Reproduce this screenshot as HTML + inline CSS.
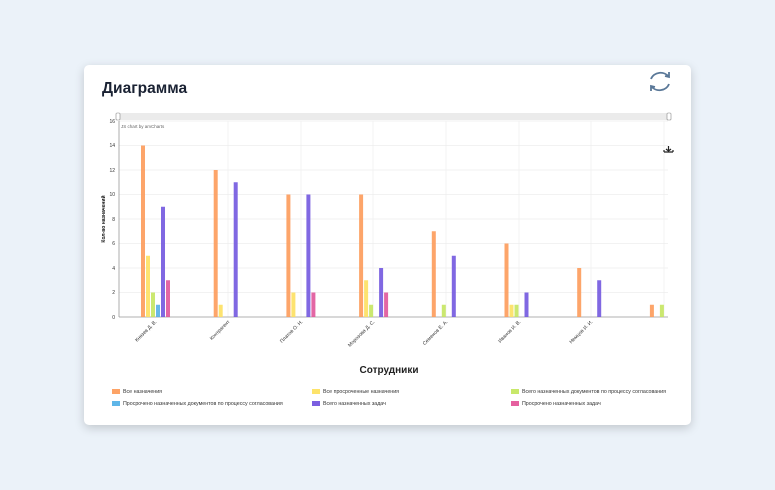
<!DOCTYPE html>
<html><head><meta charset="utf-8"><style>
body{margin:0;width:775px;height:490px;background:#ebf2f9;font-family:"Liberation Sans",sans-serif;overflow:hidden}
.card{position:absolute;left:84px;top:65px;width:607px;height:360px;background:#fff;border-radius:5px;box-shadow:0 3px 10px rgba(0,0,0,.18)}
</style></head><body>
<div class="card"></div>
<svg width="775" height="490" style="position:absolute;left:0;top:0" font-family="Liberation Sans, sans-serif">
<text x="102" y="93" font-size="15.5" font-weight="bold" fill="#1a2233">Диаграмма</text>
<g fill="none" stroke="#5a7898" stroke-width="1.8">
<path d="M651 79 a10 9 0 0 1 18 -2"/><path d="M669 84 a10 9 0 0 1 -18 2"/>
<path d="M665 76 l4 1 l0 -5"/><path d="M655 87 l-4 -1 l0 5"/>
</g>
<rect x="117" y="113" width="553" height="7" fill="#ebebeb"/>
<rect x="116" y="113" width="4" height="7" rx="1" fill="#fff" stroke="#888" stroke-width=".6"/>
<rect x="667" y="113" width="4" height="7" rx="1" fill="#fff" stroke="#888" stroke-width=".6"/>
<text x="121" y="128" font-size="4.5" fill="#666">JS chart by amCharts</text>
<g stroke="#eee" stroke-width=".7">
<line x1="119" y1="121" x2="668" y2="121"/><line x1="119" y1="145.5" x2="668" y2="145.5"/><line x1="119" y1="170" x2="668" y2="170"/><line x1="119" y1="194.5" x2="668" y2="194.5"/><line x1="119" y1="219" x2="668" y2="219"/><line x1="119" y1="243.5" x2="668" y2="243.5"/><line x1="119" y1="268" x2="668" y2="268"/><line x1="119" y1="292.5" x2="668" y2="292.5"/>
<line x1="228" y1="121" x2="228" y2="317"/><line x1="301" y1="121" x2="301" y2="317"/><line x1="373" y1="121" x2="373" y2="317"/><line x1="446" y1="121" x2="446" y2="317"/><line x1="519" y1="121" x2="519" y2="317"/><line x1="591" y1="121" x2="591" y2="317"/><line x1="664" y1="121" x2="664" y2="317"/>
</g>
<line x1="119" y1="121" x2="119" y2="317" stroke="#999" stroke-width=".8"/>
<line x1="119" y1="317" x2="668" y2="317" stroke="#999" stroke-width=".8"/>
<g font-size="5" fill="#333" text-anchor="end">
<text x="115" y="123">16</text><text x="115" y="147">14</text><text x="115" y="172">12</text><text x="115" y="196">10</text><text x="115" y="221">8</text><text x="115" y="245">6</text><text x="115" y="270">4</text><text x="115" y="294">2</text><text x="115" y="319">0</text>
</g>
<text transform="translate(105,219) rotate(-90)" font-size="5" font-weight="bold" text-anchor="middle" fill="#111">Кол-во назначений</text>
<g id="bars"></g>
<g font-size="5" fill="#333" text-anchor="end">
<text transform="translate(157,322) rotate(-45)">Князев Д. В.</text>
<text transform="translate(230,322) rotate(-45)">Контрагент</text>
<text transform="translate(303,322) rotate(-45)">Платов О. Н.</text>
<text transform="translate(375,322) rotate(-45)">Морозова Д. С.</text>
<text transform="translate(448,322) rotate(-45)">Семенов Е. А.</text>
<text transform="translate(521,322) rotate(-45)">Иванов И. В.</text>
<text transform="translate(593,322) rotate(-45)">Немцов И. И.</text>
</g>
<text x="389" y="373" font-size="10" font-weight="bold" text-anchor="middle" fill="#222">Сотрудники</text>
<g font-size="5.3" fill="#333">
<rect x="112" y="389" width="8" height="5" fill="#fda366"/><text x="123" y="393">Все назначения</text>
<rect x="312" y="389" width="8" height="5" fill="#fde36a"/><text x="323" y="393">Все просроченные назначения</text>
<rect x="511" y="389" width="8" height="5" fill="#c8e86a"/><text x="522" y="393">Всего назначенных документов по процессу согласования</text>
<rect x="112" y="401" width="8" height="5" fill="#5fb6e8"/><text x="123" y="405">Просрочено назначенных документов по процессу согласования</text>
<rect x="312" y="401" width="8" height="5" fill="#7b5fe0"/><text x="323" y="405">Всего назначенных задач</text>
<rect x="511" y="401" width="8" height="5" fill="#e5609f"/><text x="522" y="405">Просрочено назначенных задач</text>
</g>
<path d="M664 152 h9 M666 149 l2.5 2 l2.5 -2 M668.5 146 v5 M664 150 v2 M673 150 v2" stroke="#222" stroke-width="1.2" fill="none"/>
</svg>
<script>
var d=[[14,5,2,1,9,3],[12,1,0,0,11,0],[10,2,0,0,10,2],[10,3,1,0,4,2],[7,0,1,0,5,0],[6,1,1,0,2,0],[4,0,0,0,3,0],[1,0,1,0,0,0]];
var c=["#fd9b5a","#fde060","#c5e660","#58b0e6","#7258df","#e0559a"];
var s="";
d.forEach(function(r,i){var cx=155.5+72.7*i;r.forEach(function(v,j){if(!v)return;var h=v*12.25;s+='<rect x="'+(cx-14.5+5*j)+'" y="'+(317-h)+'" width="4" height="'+h+'" fill="'+c[j]+'" fill-opacity=".9"/>';});});
document.getElementById("bars").innerHTML=s;
</script>
</body></html>
